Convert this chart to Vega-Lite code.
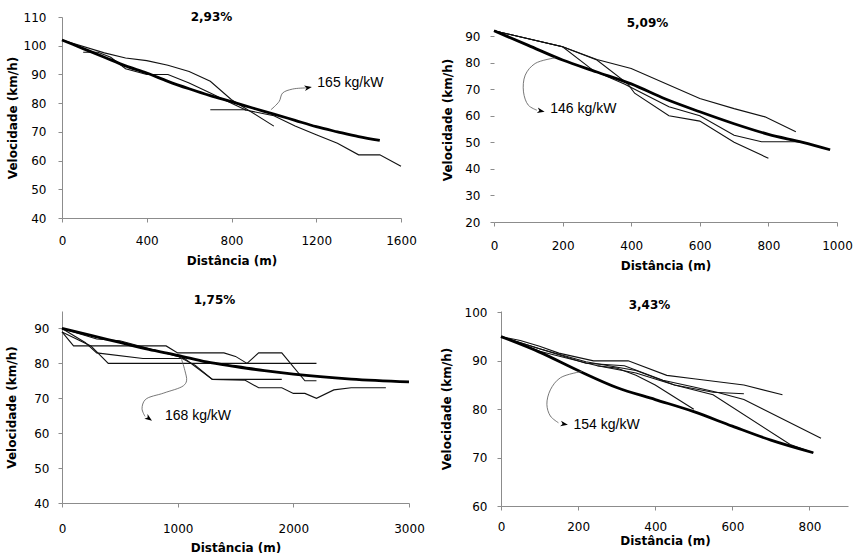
{
  "$schema": "https://vega.github.io/schema/vega-lite/v6.json",
  "padding": {"left": 5, "top": 11, "right": 0, "bottom": 0},
  "background": "white",
  "config": {
    "view": {"stroke": null},
    "axis": {
      "grid": false,
      "labelFont": "DejaVu Sans", "labelFontSize": 12, "labelColor": "#000",
      "titleFont": "DejaVu Sans", "titleFontSize": 12, "titleFontWeight": "bold", "titleColor": "#000",
      "domainColor": "#8c8c8c", "tickColor": "#8c8c8c", "tickSize": 4,
      "labelFlush": false, "labelOverlap": false, "minExtent": 0, "maxExtent": 0
    },
    "title": {"font": "DejaVu Sans", "fontSize": 12, "fontWeight": "bold", "color": "#000", "anchor": "middle", "frame": "group", "offset": 0, "baseline": "middle"}
  },
  "datasets": {
    "p1": [
      {"s": "ajuste", "d": 0, "v": 102}, {"s": "ajuste", "d": 100, "v": 99}, {"s": "ajuste", "d": 200, "v": 96}, {"s": "ajuste", "d": 300, "v": 93}, {"s": "ajuste", "d": 400, "v": 90.5}, {"s": "ajuste", "d": 500, "v": 87.6}, {"s": "ajuste", "d": 600, "v": 85}, {"s": "ajuste", "d": 700, "v": 82.6}, {"s": "ajuste", "d": 800, "v": 80.5}, {"s": "ajuste", "d": 900, "v": 78.3}, {"s": "ajuste", "d": 1000, "v": 76.2}, {"s": "ajuste", "d": 1100, "v": 74}, {"s": "ajuste", "d": 1200, "v": 71.8}, {"s": "ajuste", "d": 1300, "v": 70}, {"s": "ajuste", "d": 1400, "v": 68.3}, {"s": "ajuste", "d": 1500, "v": 67},
      {"s": "1", "d": 0, "v": 102}, {"s": "1", "d": 200, "v": 97.5}, {"s": "1", "d": 300, "v": 95.7}, {"s": "1", "d": 400, "v": 94.8}, {"s": "1", "d": 500, "v": 93.2}, {"s": "1", "d": 600, "v": 91}, {"s": "1", "d": 700, "v": 87.6}, {"s": "1", "d": 800, "v": 81.2}, {"s": "1", "d": 1000, "v": 72},
      {"s": "2", "d": 100, "v": 97.7}, {"s": "2", "d": 170, "v": 97.7}, {"s": "2", "d": 230, "v": 96}, {"s": "2", "d": 300, "v": 92}, {"s": "2", "d": 400, "v": 90}, {"s": "2", "d": 500, "v": 90}, {"s": "2", "d": 600, "v": 87}, {"s": "2", "d": 700, "v": 83.5}, {"s": "2", "d": 800, "v": 80}, {"s": "2", "d": 870, "v": 77.5},
      {"s": "3", "d": 700, "v": 77.7}, {"s": "3", "d": 860, "v": 77.7}, {"s": "3", "d": 1000, "v": 75.6}, {"s": "3", "d": 1100, "v": 72}, {"s": "3", "d": 1200, "v": 69}, {"s": "3", "d": 1300, "v": 66}, {"s": "3", "d": 1400, "v": 62}, {"s": "3", "d": 1500, "v": 62}, {"s": "3", "d": 1600, "v": 58}
    ],
    "n1": [
      {"k": "seta", "i": 1, "d": 986, "v": 77.7}, {"k": "seta", "i": 2, "d": 1025, "v": 80.6}, {"k": "seta", "i": 3, "d": 1041, "v": 83.5}, {"k": "seta", "i": 4, "d": 1088, "v": 84.9}, {"k": "seta", "i": 5, "d": 1151, "v": 85.3},
      {"k": "ponta", "d": 1162, "v": 85.4},
      {"k": "rotulo", "d": 1205, "v": 87, "texto": "165 kg/kW"}
    ],
    "p2": [
      {"s": "ajuste", "d": 0, "v": 92}, {"s": "ajuste", "d": 100, "v": 86.5}, {"s": "ajuste", "d": 200, "v": 81}, {"s": "ajuste", "d": 300, "v": 76.5}, {"s": "ajuste", "d": 400, "v": 72}, {"s": "ajuste", "d": 500, "v": 66.3}, {"s": "ajuste", "d": 600, "v": 61.5}, {"s": "ajuste", "d": 700, "v": 57}, {"s": "ajuste", "d": 800, "v": 53}, {"s": "ajuste", "d": 900, "v": 50}, {"s": "ajuste", "d": 980, "v": 47.2},
      {"s": "1", "d": 0, "v": 92}, {"s": "1", "d": 200, "v": 86}, {"s": "1", "d": 300, "v": 81.2}, {"s": "1", "d": 400, "v": 77.8}, {"s": "1", "d": 500, "v": 72.2}, {"s": "1", "d": 600, "v": 66.5}, {"s": "1", "d": 700, "v": 62.7}, {"s": "1", "d": 790, "v": 59.6}, {"s": "1", "d": 880, "v": 54},
      {"s": "2", "d": 0, "v": 92}, {"s": "2", "d": 200, "v": 86}, {"s": "2", "d": 290, "v": 77}, {"s": "2", "d": 380, "v": 72}, {"s": "2", "d": 510, "v": 63.4}, {"s": "2", "d": 600, "v": 60}, {"s": "2", "d": 700, "v": 52.7}, {"s": "2", "d": 780, "v": 50.2}, {"s": "2", "d": 880, "v": 50.2}, {"s": "2", "d": 900, "v": 50},
      {"s": "3", "d": 0, "v": 92}, {"s": "3", "d": 200, "v": 86}, {"s": "3", "d": 300, "v": 81}, {"s": "3", "d": 390, "v": 72}, {"s": "3", "d": 410, "v": 68.5}, {"s": "3", "d": 510, "v": 60}, {"s": "3", "d": 600, "v": 58}, {"s": "3", "d": 700, "v": 50}, {"s": "3", "d": 800, "v": 44}
    ],
    "n2": [
      {"k": "seta", "i": 1, "d": 178, "v": 81.8}, {"k": "seta", "i": 2, "d": 120, "v": 79.7}, {"k": "seta", "i": 3, "d": 91, "v": 75.3}, {"k": "seta", "i": 4, "d": 86, "v": 69}, {"k": "seta", "i": 5, "d": 100, "v": 64}, {"k": "seta", "i": 6, "d": 125, "v": 62.1},
      {"k": "ponta", "d": 137, "v": 61.8},
      {"k": "rotulo", "d": 164, "v": 62.7, "texto": "146 kg/kW"}
    ],
    "p3": [
      {"s": "ajuste", "d": 0, "v": 90}, {"s": "ajuste", "d": 250, "v": 88}, {"s": "ajuste", "d": 500, "v": 86}, {"s": "ajuste", "d": 750, "v": 84}, {"s": "ajuste", "d": 1000, "v": 82.3}, {"s": "ajuste", "d": 1250, "v": 80.4}, {"s": "ajuste", "d": 1500, "v": 79.1}, {"s": "ajuste", "d": 1750, "v": 77.9}, {"s": "ajuste", "d": 2000, "v": 76.9}, {"s": "ajuste", "d": 2500, "v": 75.5}, {"s": "ajuste", "d": 3000, "v": 74.7},
      {"s": "1", "d": 0, "v": 89}, {"s": "1", "d": 100, "v": 85}, {"s": "1", "d": 900, "v": 85}, {"s": "1", "d": 1000, "v": 83}, {"s": "1", "d": 1400, "v": 83}, {"s": "1", "d": 1500, "v": 82}, {"s": "1", "d": 1600, "v": 80}, {"s": "1", "d": 1700, "v": 83}, {"s": "1", "d": 1900, "v": 83}, {"s": "1", "d": 2100, "v": 75}, {"s": "1", "d": 2200, "v": 75},
      {"s": "2", "d": 0, "v": 89}, {"s": "2", "d": 250, "v": 85}, {"s": "2", "d": 400, "v": 80}, {"s": "2", "d": 2200, "v": 80},
      {"s": "3", "d": 0, "v": 90}, {"s": "3", "d": 300, "v": 87}, {"s": "3", "d": 500, "v": 86.5}, {"s": "3", "d": 1000, "v": 82}, {"s": "3", "d": 1150, "v": 79.5}, {"s": "3", "d": 1300, "v": 75.4}, {"s": "3", "d": 1580, "v": 75.2}, {"s": "3", "d": 1700, "v": 73}, {"s": "3", "d": 1900, "v": 73}, {"s": "3", "d": 2000, "v": 71.4}, {"s": "3", "d": 2100, "v": 71.4}, {"s": "3", "d": 2200, "v": 70}, {"s": "3", "d": 2350, "v": 72.4}, {"s": "3", "d": 2500, "v": 73}, {"s": "3", "d": 2800, "v": 73},
      {"s": "4", "d": 0, "v": 90}, {"s": "4", "d": 200, "v": 86}, {"s": "4", "d": 300, "v": 83}, {"s": "4", "d": 700, "v": 81.4}, {"s": "4", "d": 1060, "v": 81.4}, {"s": "4", "d": 1300, "v": 75.4}, {"s": "4", "d": 1900, "v": 75.4}
    ],
    "n3": [
      {"k": "seta", "i": 1, "d": 1030, "v": 81.5}, {"k": "seta", "i": 2, "d": 1062, "v": 78}, {"k": "seta", "i": 3, "d": 1077, "v": 75}, {"k": "seta", "i": 4, "d": 1050, "v": 73.6}, {"k": "seta", "i": 5, "d": 880, "v": 71.5}, {"k": "seta", "i": 6, "d": 720, "v": 69.6}, {"k": "seta", "i": 7, "d": 692, "v": 67}, {"k": "seta", "i": 8, "d": 718, "v": 64.8},
      {"k": "ponta", "d": 752, "v": 64.2},
      {"k": "rotulo", "d": 890, "v": 64.8, "texto": "168 kg/kW"}
    ],
    "p4": [
      {"s": "ajuste", "d": 0, "v": 95}, {"s": "ajuste", "d": 100, "v": 91.8}, {"s": "ajuste", "d": 200, "v": 88}, {"s": "ajuste", "d": 300, "v": 84.5}, {"s": "ajuste", "d": 400, "v": 82}, {"s": "ajuste", "d": 500, "v": 79.5}, {"s": "ajuste", "d": 600, "v": 76.5}, {"s": "ajuste", "d": 700, "v": 73.6}, {"s": "ajuste", "d": 810, "v": 71},
      {"s": "1", "d": 0, "v": 95}, {"s": "1", "d": 50, "v": 94.2}, {"s": "1", "d": 100, "v": 93}, {"s": "1", "d": 150, "v": 91.6}, {"s": "1", "d": 240, "v": 90}, {"s": "1", "d": 330, "v": 90}, {"s": "1", "d": 430, "v": 87}, {"s": "1", "d": 500, "v": 86.3}, {"s": "1", "d": 630, "v": 85}, {"s": "1", "d": 730, "v": 83},
      {"s": "2", "d": 0, "v": 95}, {"s": "2", "d": 100, "v": 92.5}, {"s": "2", "d": 220, "v": 89.5}, {"s": "2", "d": 320, "v": 89}, {"s": "2", "d": 420, "v": 86}, {"s": "2", "d": 500, "v": 84.6}, {"s": "2", "d": 560, "v": 83.5}, {"s": "2", "d": 630, "v": 82}, {"s": "2", "d": 830, "v": 74},
      {"s": "3", "d": 0, "v": 95}, {"s": "3", "d": 100, "v": 92.5}, {"s": "3", "d": 220, "v": 89.8}, {"s": "3", "d": 350, "v": 88}, {"s": "3", "d": 450, "v": 85}, {"s": "3", "d": 550, "v": 83.5}, {"s": "3", "d": 630, "v": 83.2},
      {"s": "4", "d": 0, "v": 95}, {"s": "4", "d": 100, "v": 92}, {"s": "4", "d": 250, "v": 89}, {"s": "4", "d": 300, "v": 88.5}, {"s": "4", "d": 350, "v": 87}, {"s": "4", "d": 400, "v": 85}, {"s": "4", "d": 500, "v": 80},
      {"s": "5", "d": 250, "v": 89}, {"s": "5", "d": 350, "v": 87.5}, {"s": "5", "d": 450, "v": 85}, {"s": "5", "d": 550, "v": 83}, {"s": "5", "d": 750, "v": 72.7}, {"s": "5", "d": 810, "v": 71}
    ],
    "n4": [
      {"k": "seta", "i": 1, "d": 210, "v": 87.8}, {"k": "seta", "i": 2, "d": 154, "v": 86.5}, {"k": "seta", "i": 3, "d": 128, "v": 84}, {"k": "seta", "i": 4, "d": 119, "v": 81}, {"k": "seta", "i": 5, "d": 128, "v": 78.6}, {"k": "seta", "i": 6, "d": 149, "v": 77.2},
      {"k": "ponta", "d": 164, "v": 76.9},
      {"k": "rotulo", "d": 188, "v": 76.8, "texto": "154 kg/kW"}
    ]
  },
  "spacing": 23,
  "vconcat": [
    {
      "bounds": "flush",
      "spacing": 93,
      "hconcat": [
        {
          "width": 339, "height": 201,
          "title": {"text": "2,93%", "dx": -20, "dy": 17},
          "encoding": {
            "x": {"field": "d", "type": "quantitative", "scale": {"domain": [0, 1600], "nice": false},
                  "axis": {"values": [0, 400, 800, 1200, 1600], "format": "d", "title": "Distância (m)", "labelPadding": 13, "titlePadding": 37}},
            "y": {"field": "v", "type": "quantitative", "scale": {"domain": [40, 110], "nice": false, "zero": false},
                  "axis": {"values": [40, 50, 60, 70, 80, 90, 100, 110], "format": "d", "title": "Velocidade (km/h)", "labelPadding": 12, "titlePadding": 43}}
          },
          "layer": [
            {"data": {"name": "p1"}, "transform": [{"filter": "datum.s != 'ajuste'"}], "mark": {"type": "line", "color": "#111", "strokeWidth": 1.1}, "encoding": {"detail": {"field": "s"}}},
            {"data": {"name": "p1"}, "transform": [{"filter": "datum.s == 'ajuste'"}], "mark": {"type": "line", "color": "#000", "strokeWidth": 2.8, "interpolate": "monotone"}},
            {"data": {"name": "n1"}, "transform": [{"filter": "datum.k == 'seta'"}], "mark": {"type": "line", "color": "#555", "strokeWidth": 0.8, "interpolate": "catmull-rom"}, "encoding": {"order": {"field": "i"}}},
            {"data": {"name": "n1"}, "transform": [{"filter": "datum.k == 'ponta'"}], "mark": {"type": "point", "shape": "M-1,-0.75L1,0L-1,0.75L-0.45,0Z", "filled": true, "color": "#000", "opacity": 1, "size": 55, "angle": -10}},
            {"data": {"name": "n1"}, "transform": [{"filter": "datum.k == 'rotulo'"}], "mark": {"type": "text", "align": "left", "baseline": "middle", "font": "Liberation Sans", "fontSize": 14, "color": "#000"}, "encoding": {"text": {"field": "texto"}}}
          ]
        },
        {
          "width": 343, "height": 205,
          "title": {"text": "5,09%", "dx": -18, "dy": 17},
          "encoding": {
            "x": {"field": "d", "type": "quantitative", "scale": {"domain": [0, 1000], "nice": false},
                  "axis": {"values": [0, 200, 400, 600, 800, 1000], "format": "d", "title": "Distância (m)", "labelPadding": 14, "titlePadding": 38}},
            "y": {"field": "v", "type": "quantitative", "scale": {"domain": [20, 97.2], "nice": false, "zero": false},
                  "axis": {"values": [20, 30, 40, 50, 60, 70, 80, 90], "format": "d", "title": "Velocidade (km/h)", "labelPadding": 10, "titlePadding": 40, "domain": false}}
          },
          "layer": [
            {"data": {"values": [{}]}, "mark": {"type": "rule", "color": "#8c8c8c", "strokeWidth": 1}, "encoding": {"x": {"datum": 0, "type": "quantitative"}, "y": {"datum": 20, "type": "quantitative"}, "y2": {"datum": 95}}},
            {"data": {"name": "p2"}, "transform": [{"filter": "datum.s != 'ajuste'"}], "mark": {"type": "line", "color": "#111", "strokeWidth": 1.1}, "encoding": {"detail": {"field": "s"}}},
            {"data": {"name": "p2"}, "transform": [{"filter": "datum.s == 'ajuste'"}], "mark": {"type": "line", "color": "#000", "strokeWidth": 2.8, "interpolate": "monotone"}},
            {"data": {"name": "n2"}, "transform": [{"filter": "datum.k == 'seta'"}], "mark": {"type": "line", "color": "#555", "strokeWidth": 0.8, "interpolate": "catmull-rom"}, "encoding": {"order": {"field": "i"}}},
            {"data": {"name": "n2"}, "transform": [{"filter": "datum.k == 'ponta'"}], "mark": {"type": "point", "shape": "M-1,-0.75L1,0L-1,0.75L-0.45,0Z", "filled": true, "color": "#000", "opacity": 1, "size": 55, "angle": 10}},
            {"data": {"name": "n2"}, "transform": [{"filter": "datum.k == 'rotulo'"}], "mark": {"type": "text", "align": "left", "baseline": "middle", "font": "Liberation Sans", "fontSize": 14, "color": "#000"}, "encoding": {"text": {"field": "texto"}}}
          ]
        }
      ]
    },
    {
      "bounds": "flush",
      "spacing": 92,
      "hconcat": [
        {
          "width": 347, "height": 192,
          "title": {"text": "1,75%", "dx": -21, "dy": 0},
          "encoding": {
            "x": {"field": "d", "type": "quantitative", "scale": {"domain": [0, 3000], "nice": false},
                  "axis": {"values": [0, 1000, 2000, 3000], "format": "d", "title": "Distância (m)", "labelPadding": 16, "titlePadding": 39}},
            "y": {"field": "v", "type": "quantitative", "scale": {"domain": [40, 95], "nice": false, "zero": false},
                  "axis": {"values": [40, 50, 60, 70, 80, 90], "format": "d", "title": "Velocidade (km/h)", "labelPadding": 9, "titlePadding": 44}}
          },
          "layer": [
            {"data": {"name": "p3"}, "transform": [{"filter": "datum.s != 'ajuste'"}], "mark": {"type": "line", "color": "#111", "strokeWidth": 1.1}, "encoding": {"detail": {"field": "s"}}},
            {"data": {"name": "p3"}, "transform": [{"filter": "datum.s == 'ajuste'"}], "mark": {"type": "line", "color": "#000", "strokeWidth": 2.8, "interpolate": "monotone"}},
            {"data": {"name": "n3"}, "transform": [{"filter": "datum.k == 'seta'"}], "mark": {"type": "line", "color": "#555", "strokeWidth": 0.8, "interpolate": "catmull-rom"}, "encoding": {"order": {"field": "i"}}},
            {"data": {"name": "n3"}, "transform": [{"filter": "datum.k == 'ponta'"}], "mark": {"type": "point", "shape": "M-1,-0.75L1,0L-1,0.75L-0.45,0Z", "filled": true, "color": "#000", "opacity": 1, "size": 55, "angle": 35}},
            {"data": {"name": "n3"}, "transform": [{"filter": "datum.k == 'rotulo'"}], "mark": {"type": "text", "align": "left", "baseline": "middle", "font": "Liberation Sans", "fontSize": 14, "color": "#000"}, "encoding": {"text": {"field": "texto"}}}
          ]
        },
        {
          "width": 347, "height": 195,
          "title": {"text": "3,43%", "dx": -25, "dy": 10},
          "encoding": {
            "x": {"field": "d", "type": "quantitative", "scale": {"domain": [0, 900], "nice": false},
                  "axis": {"values": [0, 200, 400, 600, 800], "format": "d", "title": "Distância (m)", "labelPadding": 11, "titlePadding": 29, "titleX": 164}},
            "y": {"field": "v", "type": "quantitative", "scale": {"domain": [60, 100.3], "nice": false, "zero": false},
                  "axis": {"values": [60, 70, 80, 90, 100], "format": "d", "title": "Velocidade (km/h)", "labelPadding": 10, "titlePadding": 48}}
          },
          "layer": [
            {"data": {"name": "p4"}, "transform": [{"filter": "datum.s != 'ajuste'"}], "mark": {"type": "line", "color": "#111", "strokeWidth": 1.1}, "encoding": {"detail": {"field": "s"}}},
            {"data": {"name": "p4"}, "transform": [{"filter": "datum.s == 'ajuste'"}], "mark": {"type": "line", "color": "#000", "strokeWidth": 2.8, "interpolate": "monotone"}},
            {"data": {"name": "n4"}, "transform": [{"filter": "datum.k == 'seta'"}], "mark": {"type": "line", "color": "#555", "strokeWidth": 0.8, "interpolate": "catmull-rom"}, "encoding": {"order": {"field": "i"}}},
            {"data": {"name": "n4"}, "transform": [{"filter": "datum.k == 'ponta'"}], "mark": {"type": "point", "shape": "M-1,-0.75L1,0L-1,0.75L-0.45,0Z", "filled": true, "color": "#000", "opacity": 1, "size": 55, "angle": 10}},
            {"data": {"name": "n4"}, "transform": [{"filter": "datum.k == 'rotulo'"}], "mark": {"type": "text", "align": "left", "baseline": "middle", "font": "Liberation Sans", "fontSize": 14, "color": "#000"}, "encoding": {"text": {"field": "texto"}}}
          ]
        }
      ]
    }
  ]
}
